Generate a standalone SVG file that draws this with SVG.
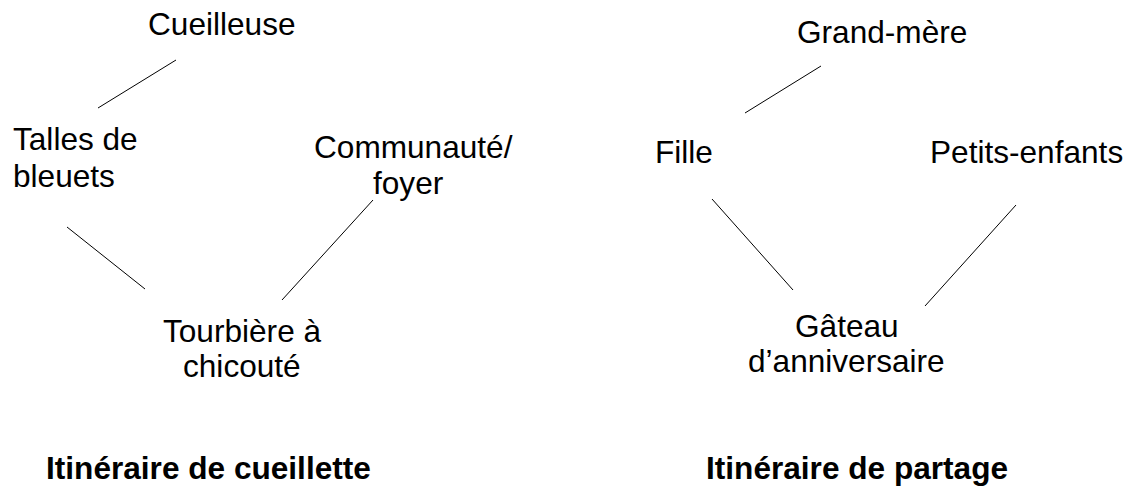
<svg xmlns="http://www.w3.org/2000/svg" width="1131" height="486" viewBox="0 0 1131 486">
<style>
text{font-family:"Liberation Sans",Arial,sans-serif;font-size:31.6px;fill:#000}
.t{font-weight:bold}
.c line{stroke:#000;stroke-width:1}
</style>
<rect width="1131" height="486" fill="#fff"/>
<g id="cueilleuse"><text x="148" y="35">Cueilleuse</text></g>
<g id="talles"><text x="13" y="150">Talles de</text><text x="13" y="187">bleuets</text></g>
<g id="communaute"><text x="314" y="158">Communauté/</text><text x="373" y="194">foyer</text></g>
<g id="tourbiere"><text x="163" y="342">Tourbière à</text><text x="183" y="377">chicouté</text></g>
<g id="grandmere"><text x="797" y="43">Grand-mère</text></g>
<g id="fille"><text x="655" y="163">Fille</text></g>
<g id="petits"><text x="930" y="163">Petits-enfants</text></g>
<g id="gateau"><text x="795" y="337">Gâteau</text><text x="748" y="372">d’anniversaire</text></g>
<g id="titles"><text class="t" x="46" y="479">Itinéraire de cueillette</text><text class="t" x="706" y="479">Itinéraire de partage</text></g>
<g class="c" id="connectors">
<line x1="176" y1="60" x2="98" y2="108"/>
<line x1="373" y1="200" x2="282" y2="300"/>
<line x1="67" y1="227" x2="145" y2="289"/>
<line x1="821" y1="66" x2="745" y2="113"/>
<line x1="712" y1="199" x2="793" y2="290"/>
<line x1="1016" y1="205" x2="925" y2="306"/>
</g>
</svg>
